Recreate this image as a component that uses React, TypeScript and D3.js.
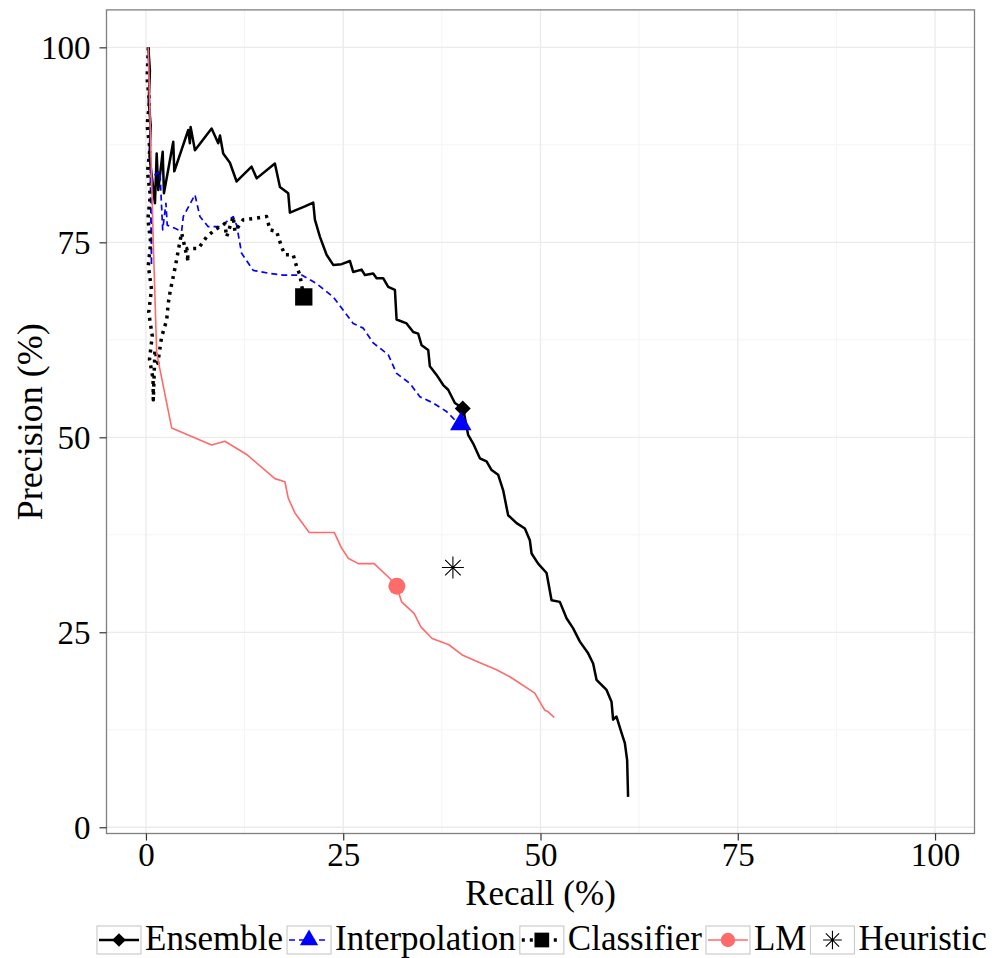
import * as d3 from "d3";
import { useEffect, useRef } from "react";

// recall (%), precision (%)
const ensemble: [number, number][] = [
  [0.3, 100], [0.5, 97], [0.35, 93], [0.6, 90], [0.45, 86], [0.8, 83], [1.14, 80.0], [1.36, 86.4], [1.56, 81.7],
  [2.12, 86.6], [2.28, 81.3], [3.46, 87.9], [3.59, 84.1], [5.36, 89.4], [5.57, 87.7], [5.66, 89.8],
  [6.21, 86.8], [8.32, 89.6], [9.16, 87.7], [9.38, 88.7], [9.79, 86.4], [10.64, 85.2], [11.49, 82.8],
  [13.39, 84.7], [14.03, 83.2], [16.34, 85.1], [16.98, 82.1], [18.03, 81.3], [18.24, 78.8], [20.14, 79.6],
  [21.2, 80.1], [21.41, 77.9], [22.05, 75.7], [22.89, 73.4], [23.73, 72.1], [24.79, 72.2], [25.85, 72.6],
  [26.26, 71.2], [27.33, 71.5], [27.75, 70.8], [28.8, 71.0], [29.23, 70.4], [30.06, 70.4], [30.7, 69.3],
  [31.55, 68.9], [31.76, 65.1], [33.03, 64.6], [33.87, 63.5], [34.5, 63.3], [34.93, 61.8], [35.77, 61.2],
  [35.98, 59.1], [36.83, 58.0], [37.67, 56.7], [38.3, 56.1], [39.15, 54.4], [40.2, 53.7], [40.83, 50.3],
  [41.47, 49.2], [42.32, 47.3], [43.16, 46.9], [43.8, 45.8], [44.63, 45.2], [45.27, 43.2], [45.9, 40.0],
  [46.97, 39.0], [48.02, 38.3], [48.65, 36.8], [48.87, 35.1], [49.7, 33.8], [50.77, 32.6], [51.4, 29.1],
  [52.45, 28.9], [53.3, 26.8], [54.14, 25.5], [54.99, 23.8], [56.04, 22.3], [56.67, 21.0], [57.1, 18.9],
  [58.37, 17.6], [59.0, 16.1], [59.2, 13.8], [59.63, 14.2], [60.27, 12.1], [60.69, 10.8], [60.98, 8.6],
  [61.1, 3.9],
];

const interpolation: [number, number][] = [
  [0.3, 100], [0.5, 90], [0.6, 80], [0.7, 72], [0.72, 76], [0.8, 83.4], [1.77, 84.1], [2.12, 76.6],
  [2.53, 80.0], [2.7, 77.2], [3.67, 76.8], [4.52, 76.4], [4.73, 78.3], [6.21, 81.1], [6.84, 78.3],
  [7.89, 77.0], [9.38, 77.0], [11.06, 78.3], [11.49, 77.2], [12.12, 73.6], [13.59, 71.4], [15.71, 71.0],
  [17.4, 70.8], [19.73, 70.8], [21.63, 69.7], [23.73, 68.0], [25.0, 66.3], [26.26, 64.6], [27.53, 64.0],
  [28.8, 62.1], [30.7, 60.6], [31.76, 58.2], [33.45, 56.9], [34.71, 55.2], [36.4, 54.4], [38.1, 53.3],
  [39.36, 52.0], [40.0, 51.6],
];

const classifier: [number, number][] = [
  [0.3, 100], [0.15, 96], [0.45, 93], [0.15, 90], [0.5, 87], [0.2, 84], [0.55, 81], [0.25, 78],
  [0.6, 75], [0.3, 72], [0.7, 69], [0.35, 66], [0.8, 63], [0.45, 60], [0.9, 57.5], [0.93, 54.8],
  [1.14, 61.2], [1.5, 59.5], [1.99, 62.9], [2.62, 65.0], [2.83, 67.2], [3.1, 68.9],
  [3.46, 70.6], [3.8, 72.3], [4.1, 74.0], [4.52, 76.2], [4.9, 74.5], [5.36, 72.5], [5.2, 74.2],
  [6.63, 74.2], [7.69, 75.7], [8.74, 76.6], [10.0, 77.4], [10.22, 75.7], [11.06, 78.3], [11.28, 76.4],
  [12.33, 77.9], [14.03, 78.1], [15.29, 78.3], [15.71, 76.6], [16.56, 76.4], [17.19, 74.4], [17.61, 73.4],
  [18.66, 73.4], [19.09, 71.9], [19.51, 70.8], [19.73, 69.5], [20.0, 68.0],
];

const lm: [number, number][] = [
  [0.29, 100], [0.92, 75.3], [1.36, 60.8], [3.26, 51.2], [8.32, 49.0], [10.0, 49.5], [12.76, 47.8],
  [16.34, 44.7], [17.61, 44.3], [18.03, 42.2], [18.88, 40.3], [20.69, 37.8], [23.86, 37.8], [24.79, 35.8],
  [25.63, 34.5], [26.9, 33.8], [28.92, 33.8], [30.91, 31.9], [31.76, 30.9], [32.4, 28.9], [34.0, 27.4],
  [34.84, 25.7], [36.27, 24.2], [38.39, 23.4], [40.07, 22.1], [42.1, 21.2], [44.43, 20.2], [46.12, 19.3],
  [49.28, 17.2], [50.13, 15.7], [50.55, 15.0], [50.97, 14.8], [51.73, 14.1],
];

// single operating points
const ensemblePoint: [number, number] = [40.15, 53.7];
const interpolationPoint: [number, number] = [39.9, 51.7];
const classifierPoint: [number, number] = [20.0, 68.0];
const lmPoint: [number, number] = [31.8, 30.9];
const heuristicPoint: [number, number] = [38.9, 33.3];

const majorTicks = [0, 25, 50, 75, 100];
const minorTicks = [12.5, 37.5, 62.5, 87.5];
const seriesNames = ["Ensemble", "Interpolation", "Classifier", "LM", "Heuristic"];

const FONT = '"Liberation Serif", "DejaVu Serif", "Times New Roman", serif';

function symbolPath(shape: string, big: boolean) {
  const k = big ? 1 : 0.85;
  if (shape === "diamond") {
    const r = 8 * k;
    return `M0,${-r}L${r},0L0,${r}L${-r},0Z`;
  }
  if (shape === "triangle") return d3.symbol().type(d3.symbolTriangle).size(200 * k * k)();
  if (shape === "square") return d3.symbol().type(d3.symbolSquare).size(300 * k * k)();
  if (shape === "circle") return d3.symbol().type(d3.symbolCircle).size(225 * k * k)();
  // asterisk: plus + times
  const r = 11 * k;
  const p = d3.path();
  p.moveTo(0, -r); p.lineTo(0, r);
  p.moveTo(-r, 0); p.lineTo(r, 0);
  const q = r * Math.SQRT1_2;
  p.moveTo(-q, -q); p.lineTo(q, q);
  p.moveTo(-q, q); p.lineTo(q, -q);
  return p.toString();
}

function PRChart() {
  const ref = useRef<SVGSVGElement>(null);

  useEffect(() => {
    const svg = d3.select(ref.current);
    svg.selectAll("*").remove();

    const panel = { left: 106.5, right: 974.5, top: 9.9, bottom: 833.5 };

    const xScale = d3.scaleLinear().domain([-5, 105]).range([panel.left, panel.right]);
    const yScale = d3.scaleLinear().domain([-0.8, 104.8]).range([panel.bottom, panel.top]);

    const series = [
      { name: seriesNames[0], data: ensemble, point: ensemblePoint, color: "#000000", width: 2.5, dash: "none", shape: "diamond" },
      { name: seriesNames[1], data: interpolation, point: interpolationPoint, color: "#0000FF", width: 1.7, dash: "6,4", shape: "triangle" },
      { name: seriesNames[2], data: classifier, point: classifierPoint, color: "#000000", width: 3.5, dash: "3,5", shape: "square" },
      { name: seriesNames[3], data: lm, point: lmPoint, color: "#FF6B6B", width: 1.6, dash: "none", shape: "circle" },
      { name: seriesNames[4], data: null, point: heuristicPoint, color: "#000000", width: 1, dash: "none", shape: "asterisk" },
    ];

    svg.append("rect").attr("width", 996).attr("height", 958).attr("fill", "#ffffff");

    // grid
    const grid = svg.append("g");
    grid.selectAll(".minor-x").data(minorTicks).enter().append("line")
      .attr("x1", (d) => xScale(d)).attr("x2", (d) => xScale(d))
      .attr("y1", panel.top).attr("y2", panel.bottom)
      .attr("stroke", "#F5F5F5").attr("stroke-width", 1);
    grid.selectAll(".minor-y").data(minorTicks).enter().append("line")
      .attr("y1", (d) => yScale(d)).attr("y2", (d) => yScale(d))
      .attr("x1", panel.left).attr("x2", panel.right)
      .attr("stroke", "#F5F5F5").attr("stroke-width", 1);
    grid.selectAll(".major-x").data(majorTicks).enter().append("line")
      .attr("x1", (d) => xScale(d)).attr("x2", (d) => xScale(d))
      .attr("y1", panel.top).attr("y2", panel.bottom)
      .attr("stroke", "#EBEBEB").attr("stroke-width", 1.3);
    grid.selectAll(".major-y").data(majorTicks).enter().append("line")
      .attr("y1", (d) => yScale(d)).attr("y2", (d) => yScale(d))
      .attr("x1", panel.left).attr("x2", panel.right)
      .attr("stroke", "#EBEBEB").attr("stroke-width", 1.3);

    // lines
    const line = d3.line<[number, number]>()
      .x((d) => xScale(d[0]))
      .y((d) => yScale(d[1]));

    series.filter((s) => s.data).forEach((s) => {
      svg.append("path")
        .datum(s.data as [number, number][])
        .attr("fill", "none")
        .attr("stroke", s.color)
        .attr("stroke-width", s.width)
        .attr("stroke-dasharray", s.dash)
        .attr("stroke-linejoin", "round")
        .attr("d", line);
    });

    // points
    series.forEach((s) => {
      const g = svg.append("path")
        .attr("transform", `translate(${xScale(s.point[0])},${yScale(s.point[1])})`)
        .attr("d", symbolPath(s.shape, true));
      if (s.shape === "asterisk") g.attr("fill", "none").attr("stroke", s.color).attr("stroke-width", 1.1);
      else g.attr("fill", s.color);
    });

    // panel border
    svg.append("rect")
      .attr("x", panel.left).attr("y", panel.top)
      .attr("width", panel.right - panel.left).attr("height", panel.bottom - panel.top)
      .attr("fill", "none").attr("stroke", "#7F7F7F").attr("stroke-width", 1.3);

    // axes
    const xAxis = svg.append("g").attr("transform", `translate(0,${panel.bottom})`)
      .call(d3.axisBottom(xScale).tickValues(majorTicks).tickSize(7).tickPadding(2));
    const yAxis = svg.append("g").attr("transform", `translate(${panel.left},0)`)
      .call(d3.axisLeft(yScale).tickValues(majorTicks).tickSize(7).tickPadding(9));
    [xAxis, yAxis].forEach((a) => {
      a.attr("font-family", FONT).attr("font-size", 33);
      a.select(".domain").remove();
      a.selectAll("line").attr("stroke", "#333333").attr("stroke-width", 1.2);
      a.selectAll("text").attr("fill", "#000");
    });
    xAxis.selectAll("text").attr("dy", "0.72em");
    yAxis.selectAll("text").attr("dy", "0.34em");

    // axis titles
    svg.append("text")
      .attr("x", (panel.left + panel.right) / 2).attr("y", 905)
      .attr("text-anchor", "middle")
      .attr("font-family", FONT).attr("font-size", 35)
      .text("Recall (%)");
    svg.append("text")
      .attr("transform", `translate(42,${(panel.top + panel.bottom) / 2}) rotate(-90)`)
      .attr("text-anchor", "middle")
      .attr("font-family", FONT).attr("font-size", 36)
      .text("Precision (%)");

    // legend
    const keyW = 44, keyH = 28, legendTop = 926, legendLeft = 97;
    const gapKeyText = 4, gapItem = 4;
    const legend = svg.append("g");
    const labels = series.map((s) =>
      legend.append("text")
        .attr("y", 950)
        .attr("font-family", FONT).attr("font-size", 35)
        .text(s.name)
    );
    const widths = labels.map((t) => (t.node() as SVGTextElement).getComputedTextLength());
    let cx = legendLeft;
    series.forEach((s, i) => {
      const k = legend.append("g").attr("transform", `translate(${cx},${legendTop})`);
      k.append("rect").attr("width", keyW).attr("height", keyH)
        .attr("fill", "#fff").attr("stroke", "#CCCCCC").attr("stroke-width", 1.2);
      if (s.data) {
        k.append("line").attr("x1", 2).attr("x2", keyW - 2)
          .attr("y1", keyH / 2).attr("y2", keyH / 2)
          .attr("stroke", s.color).attr("stroke-width", s.width)
          .attr("stroke-dasharray", s.dash);
      }
      const m = k.append("path")
        .attr("transform", `translate(${keyW / 2},${keyH / 2})`)
        .attr("d", symbolPath(s.shape, false));
      if (s.shape === "asterisk") m.attr("fill", "none").attr("stroke", s.color).attr("stroke-width", 1.1);
      else m.attr("fill", s.color);
      labels[i].attr("x", cx + keyW + gapKeyText);
      cx += keyW + gapKeyText + widths[i] + gapItem;
    });
  }, []);

  return (
    <svg
      ref={ref}
      width={996}
      height={958}
      fontFamily={FONT}
      style={{ position: "absolute", left: 0, top: 0 }}
    />
  );
}

export default function App() {
  return <PRChart />;
}
